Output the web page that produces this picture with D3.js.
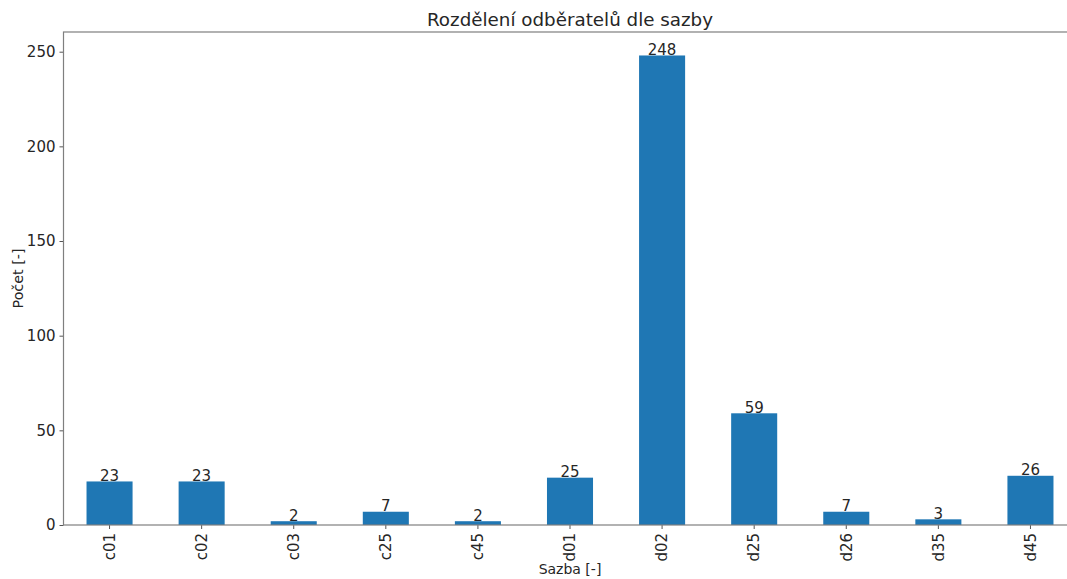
<!DOCTYPE html>
<html><head><meta charset="utf-8">
<script src="https://cdn.jsdelivr.net/npm/d3@7"></script>
<style>body{margin:0;background:#fff}svg text{font-family:"DejaVu Sans",sans-serif;fill:#262626}</style>
</head><body><svg id="c" width="1067" height="579"></svg>
<script>
const categories = ["c01","c02","c03","c25","c45","d01","d02","d25","d26","d35","d45"];
const values = [23,23,2,7,2,25,248,59,7,3,26];
const yTicks = [0,50,100,150,200,250];
const title = "Rozdělení odběratelů dle sazby";
const xLabel = "Sazba [-]";
const yLabel = "Počet [-]";

const svg = d3.select("#c");
const L = 63.5, R = 1076.5, T = 32, B = 525;
const x = d3.scaleBand().domain(categories).range([L, R]).paddingInner(0.5).paddingOuter(0.25);
const y = d3.scaleLinear().domain([0, 260.4]).range([B, T]);

svg.selectAll("rect.bar").data(values).join("rect").attr("class","bar")
  .attr("x",(d,i)=>x(categories[i])).attr("width",x.bandwidth())
  .attr("y",d=>y(d)).attr("height",d=>B-y(d)).attr("fill","#1f77b4");

svg.selectAll("text.val").data(values).join("text").attr("class","val")
  .attr("x",(d,i)=>x(categories[i])+x.bandwidth()/2).attr("y",d=>y(d)-0.5)
  .attr("text-anchor","middle").attr("font-size",15).text(d=>d);

const yAxis = svg.append("g").attr("transform",`translate(${L},0)`)
  .call(d3.axisLeft(y).tickValues(yTicks).tickSize(4).tickPadding(4).tickSizeOuter(0));
yAxis.selectAll("text").attr("font-size",15).style("font-family","DejaVu Sans");
const xAxis = svg.append("g").attr("transform",`translate(0,${B})`)
  .call(d3.axisBottom(x).tickSize(4).tickSizeOuter(0));
xAxis.selectAll("text").attr("font-size",15).style("font-family","DejaVu Sans")
  .attr("transform","rotate(-90)").attr("text-anchor","end").attr("dy","0.35em").attr("x",-8).attr("y",0);
svg.selectAll(".domain").remove();
svg.selectAll(".tick line").attr("stroke","#555");

svg.append("rect").attr("x",L).attr("y",T).attr("width",R-L).attr("height",B-T)
  .attr("fill","none").attr("stroke","#7f7f7f").attr("stroke-width",1.2);

svg.append("text").attr("x",(L+R)/2).attr("y",26).attr("text-anchor","middle").attr("font-size",18.3).text(title);
svg.append("text").attr("x",(L+R)/2).attr("y",574).attr("text-anchor","middle").attr("font-size",14).text(xLabel);
svg.append("text").attr("transform",`translate(23,${(T+B)/2}) rotate(-90)`).attr("text-anchor","middle").attr("font-size",14.3).text(yLabel);
</script></body></html>
